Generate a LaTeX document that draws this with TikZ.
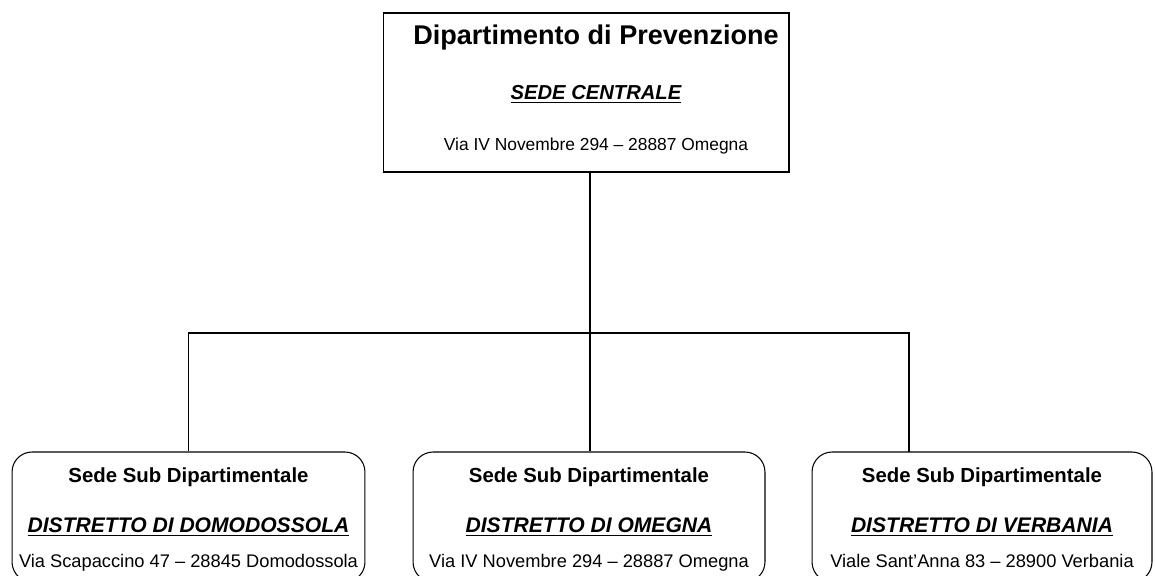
\documentclass[tikz,border=0pt]{standalone}
\usepackage{fontspec}
\setmainfont{Liberation Sans}
\usepackage{tikz}
\usetikzlibrary{positioning}

\tikzset{
  sedebox/.style={draw, line width=0.6pt, minimum width=8.12cm, minimum height=3.18cm},
  subbox/.style={draw, line width=0.6pt, rounded corners=0.4cm, minimum height=2.6cm},
  titolo/.style={anchor=base, inner sep=0pt, xshift=0.2cm, font=\fontsize{15.4}{17}\selectfont\bfseries},
  sedename/.style={anchor=base, inner sep=0pt, xshift=0.2cm, font=\fontsize{11.5}{13}\selectfont\bfseries\itshape},
  indsede/.style={anchor=base, inner sep=0pt, xshift=0.2cm, font=\fontsize{9.9}{11}\selectfont},
  subtitolo/.style={anchor=base, inner sep=0pt, font=\fontsize{11.6}{13}\selectfont\bfseries},
  distretto/.style={anchor=base, inner sep=0pt, font=\fontsize{12}{14}\selectfont\bfseries\itshape},
  indirizzo/.style={anchor=base, inner sep=0pt, font=\fontsize{10.4}{12}\selectfont},
  linea/.style={line width=0.6pt}
}

\begin{document}
\begin{tikzpicture}[x=0.02cm, y=-0.02cm]
    \clip (0,0) rectangle (1155,575);
    \fill[white] (0,0) rectangle (1155,575);

    % sede centrale
    \node(sede) [sedebox] at (586,92.5) {};
    \node(titsede) [below = 0.64cm of sede.north, titolo] {Dipartimento di Prevenzione};
    \node(nomesede) [below = 1.74cm of sede.north, sedename] {\underline{SEDE CENTRALE}};
    \node(indsede) [below = 2.76cm of sede.north, indsede] {Via IV Novembre 294 -- 28887 Omegna};

    % sedi sub dipartimentali
    \node(dom) [subbox, minimum width=7.06cm] at (188.5,517) {};
    \node(ome) [subbox, minimum width=7.04cm] at (589,517) {};
    \node(ver) [subbox, minimum width=6.8cm] at (982,517) {};

    \node(titdom) [below = 0.62cm of dom.north, subtitolo] {Sede Sub Dipartimentale};
    \node(nomedom) [below = 1.62cm of dom.north, distretto] {\underline{DISTRETTO DI DOMODOSSOLA}};
    \node(inddom) [below = 2.32cm of dom.north, indirizzo] {Via Scapaccino 47 -- 28845 Domodossola};

    \node(titome) [below = 0.62cm of ome.north, subtitolo] {Sede Sub Dipartimentale};
    \node(nomeome) [below = 1.62cm of ome.north, distretto] {\underline{DISTRETTO DI OMEGNA}};
    \node(indome) [below = 2.32cm of ome.north, indirizzo] {Via IV Novembre 294 -- 28887 Omegna};

    \node(titver) [below = 0.62cm of ver.north, subtitolo] {Sede Sub Dipartimentale};
    \node(nomever) [below = 1.62cm of ver.north, distretto] {\underline{DISTRETTO DI VERBANIA}};
    \node(indver) [below = 2.32cm of ver.north, indirizzo] {Viale Sant'Anna 83 -- 28900 Verbania};

    \coordinate(bus) at (590,333);
    \coordinate(attver) at (909,452);

    \draw [linea] (sede.south -| bus) -- (bus);
    \draw [linea] (bus) -| (dom.north);
    \draw [linea] (bus) -- (bus |- ome.north);
    \draw [linea] (bus) -| (attver);
\end{tikzpicture}
\end{document}
